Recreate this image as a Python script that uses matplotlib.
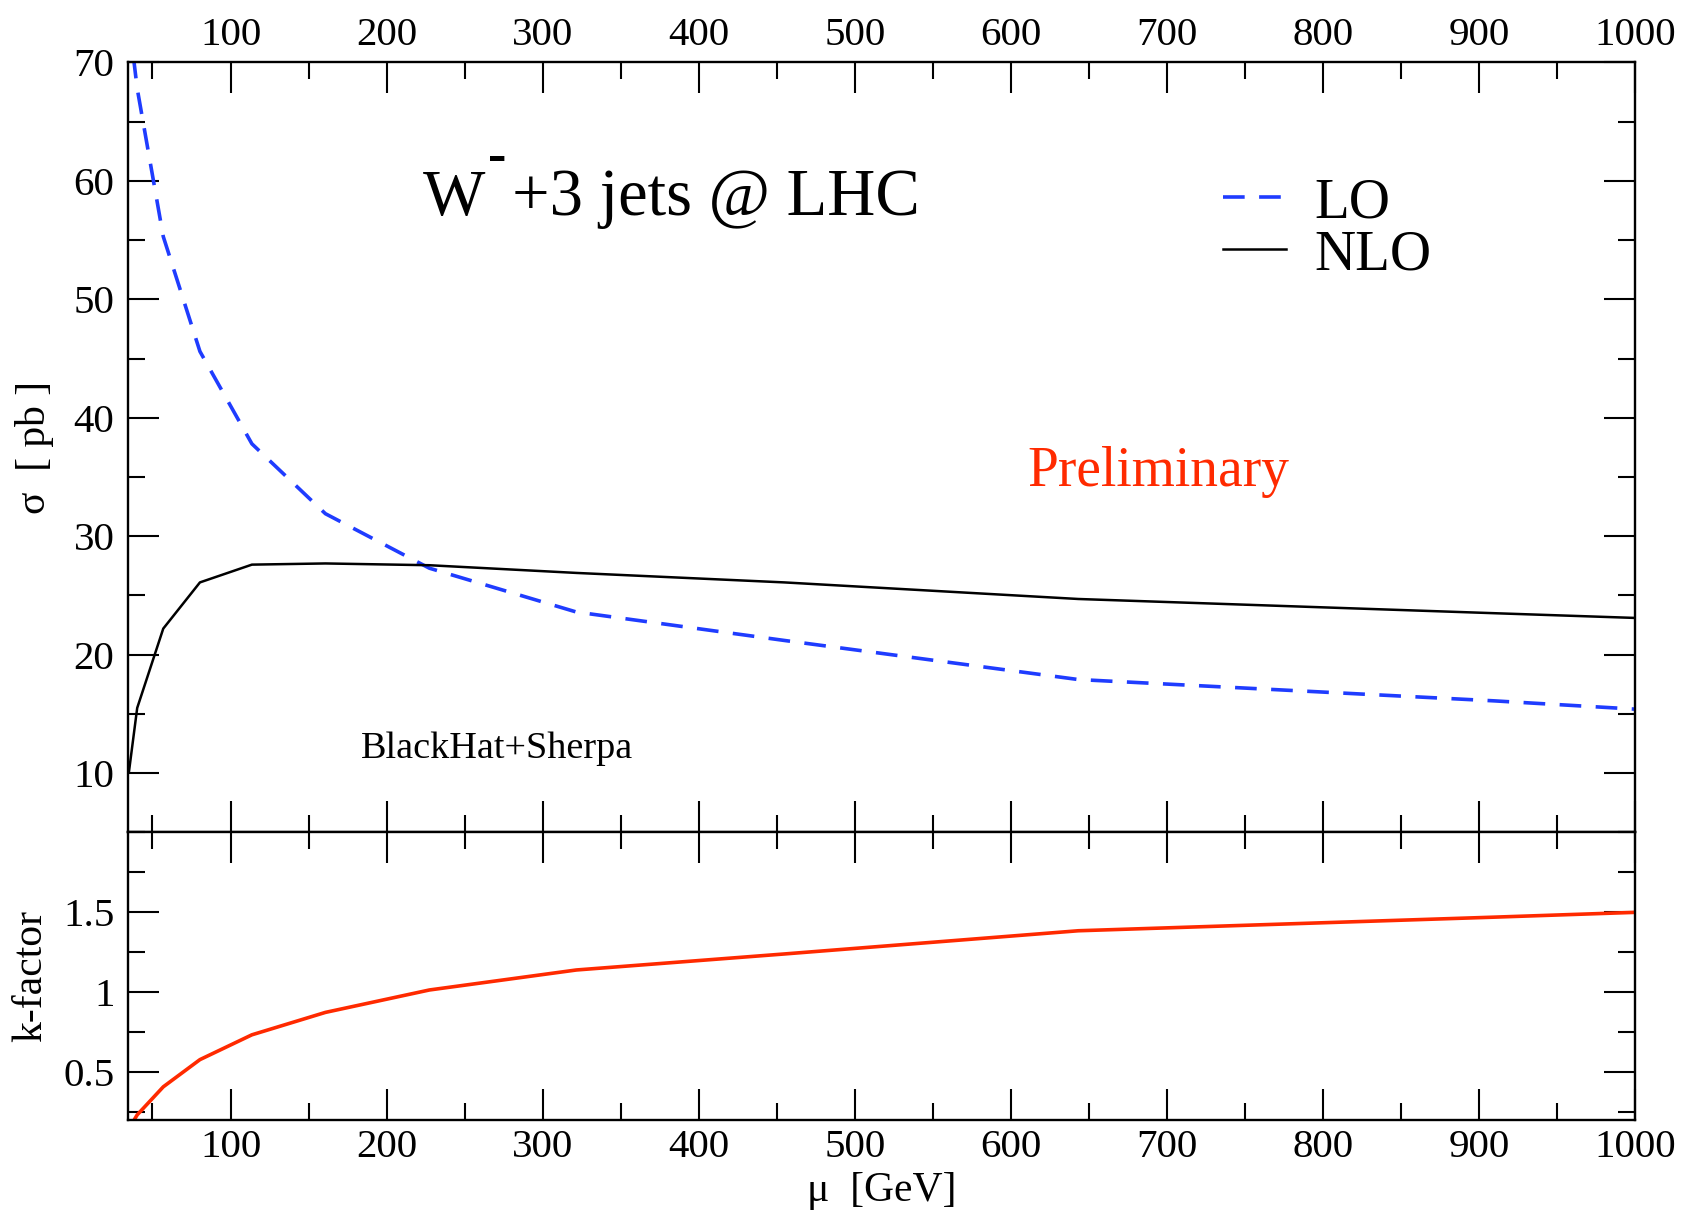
import matplotlib
matplotlib.use('Agg')
import matplotlib.pyplot as plt
from matplotlib.ticker import MultipleLocator, FormatStrFormatter

plt.rcParams['font.family'] = ['Liberation Serif', 'DejaVu Serif']

# ---- data ----
mu = [35, 40.2, 56.9, 80.4, 113.7, 160.8, 227.4, 321.6, 454.8, 643.2, 909.6, 1000]
sigma_lo = [73.5, 67.8, 55.3, 45.6, 37.8, 31.9, 27.3, 23.6, 21.2, 17.9, 16.1, 15.4]
sigma_nlo = [10.2, 15.5, 22.2, 26.1, 27.6, 27.7, 27.55, 26.9, 26.1, 24.7, 23.5, 23.1]
kfactor = [0.15, 0.235, 0.41, 0.58, 0.735, 0.875, 1.015, 1.14, 1.24, 1.385, 1.47, 1.50]

x_ticks = [100, 200, 300, 400, 500, 600, 700, 800, 900, 1000]
sig_ticks = [10, 20, 30, 40, 50, 60, 70]
k_ticks = [0.5, 1.0, 1.5]

BLUE = '#1f3cff'
RED = '#ff2a00'

fig = plt.figure(figsize=(16.86, 12.24), dpi=100)
ax1 = fig.add_axes([0.0761, 0.32, 0.8937, 0.629])
ax2 = fig.add_axes([0.0761, 0.0846, 0.8937, 0.2354], sharex=ax1)

lo_line, = ax1.plot(mu, sigma_lo, color=BLUE, lw=2.6, dashes=(6, 4), label='LO')
nlo_line, = ax1.plot(mu, sigma_nlo, color='black', lw=1.8, label='NLO')
ax2.plot(mu, kfactor, color=RED, lw=2.6)

ax1.set_xlim(34.5, 1000)
ax1.set_ylim(5, 70)
ax2.set_ylim(0.2, 2.0)

for ax in (ax1, ax2):
    for s in ax.spines.values():
        s.set_linewidth(1.7)
    ax.xaxis.set_major_locator(plt.FixedLocator(x_ticks))
    ax.xaxis.set_minor_locator(MultipleLocator(50))
    ax.tick_params(which='both', direction='in', top=True, bottom=True,
                   left=True, right=True, width=1.5, labelsize=29.5)
    ax.tick_params(which='major', length=22)
    ax.tick_params(which='minor', length=12.5)
    ax.tick_params(axis='y', pad=10)
    ax.tick_params(axis='x', pad=6)

ax1.yaxis.set_major_locator(plt.FixedLocator(sig_ticks))
ax1.yaxis.set_minor_locator(MultipleLocator(5))
ax1.tick_params(axis='x', labeltop=True, labelbottom=False)

ax2.yaxis.set_major_locator(plt.FixedLocator(k_ticks))
ax2.yaxis.set_minor_locator(MultipleLocator(0.25))
ax2.yaxis.set_major_formatter(FormatStrFormatter('%g'))
ax2.tick_params(axis='x', labeltop=False, labelbottom=True)

ax1.set_ylabel('σ  [ pb ]', fontsize=30)
ax2.set_ylabel('k-factor', fontsize=30)
ax1.yaxis.set_label_coords(-0.049, 0.5)
ax2.yaxis.set_label_coords(-0.052, 0.5)
ax2.set_xlabel('μ  [GeV]', fontsize=30, labelpad=4)

# title with superscript dash
ax1.text(0.1956, 0.8018, 'W', transform=ax1.transAxes, fontsize=47.5,
         ha='left', va='baseline')
ax1.text(0.2447, 0.8758, '-', transform=ax1.transAxes, fontsize=40,
         fontweight='bold', ha='center', va='center')
ax1.text(0.2546, 0.8018, '+3 jets @ LHC', transform=ax1.transAxes, fontsize=48,
         ha='left', va='baseline')

ax1.text(0.5965, 0.4498, 'Preliminary', transform=ax1.transAxes, fontsize=40,
         color=RED, ha='left', va='baseline')
ax1.text(0.1544, 0.0965, 'BlackHat+Sherpa', transform=ax1.transAxes, fontsize=27.5,
         ha='left', va='baseline')

ax1.legend(handles=[lo_line, nlo_line], loc='upper left',
           bbox_to_anchor=(0.7265, 0.851), frameon=False, fontsize=41,
           handlelength=1.1, handletextpad=0.5, labelspacing=0.0,
           borderpad=0, borderaxespad=0)

fig.savefig('out.png', dpi=100)
